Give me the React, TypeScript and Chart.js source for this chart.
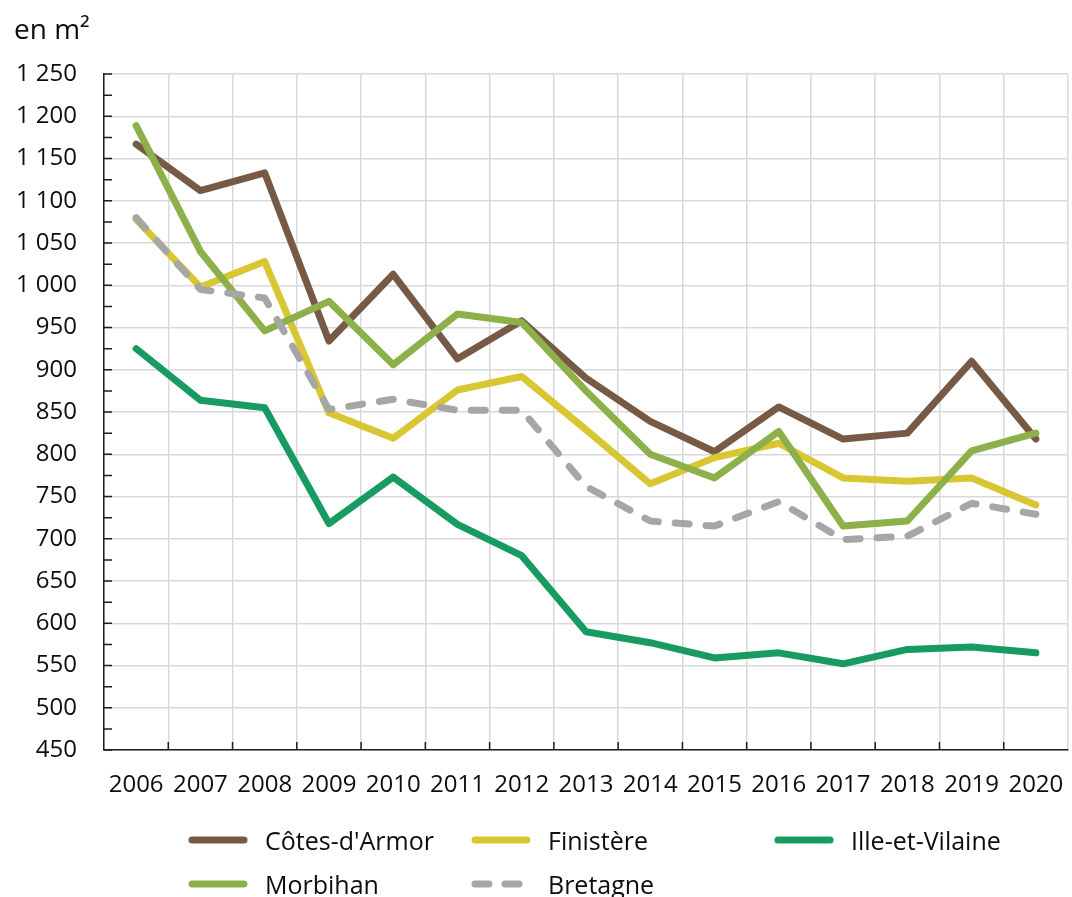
import React, { useEffect, useRef } from "react";
import { Chart, registerables } from "chart.js";

Chart.register(...registerables);

const years = ["2006","2007","2008","2009","2010","2011","2012","2013","2014","2015","2016","2017","2018","2019","2020"];
const cotesArmor = [1167, 1112, 1133, 934, 1013, 913, 958, 890, 839, 803, 856, 818, 825, 910, 818];
const finistere = [1078, 998, 1028, 849, 819, 876, 892, 829, 765, 796, 813, 772, 768, 772, 740];
const illeEtVilaine = [925, 864, 855, 718, 773, 717, 680, 590, 577, 559, 565, 552, 569, 572, 565];
const morbihan = [1189, 1040, 946, 981, 906, 966, 956, 875, 800, 772, 827, 715, 721, 804, 825];
const bretagne = [1080, 995, 985, 853, 865, 852, 852, 762, 721, 715, 744, 699, 703, 742, 729];

const yMin = 450;
const yMax = 1250;
const yMajor = 50;
const yMinor = 25;

const COLORS = {
  cotes: "#765a45",
  fin: "#d8c733",
  ille: "#179b61",
  morb: "#8db04b",
  bret: "#a6a6a6",
};

const FONT = "'Open Sans', 'Noto Sans', sans-serif";

function fmt(v: number): string {
  if (v >= 1000) return `${Math.floor(v / 1000)} ${String(v % 1000).padStart(3, "0")}`;
  return String(v);
}

const innerTicks = {
  id: "innerTicks",
  beforeDatasetsDraw(chart: any) {
    const { ctx, chartArea, scales } = chart;
    const y = scales.y;
    const x = scales.x;
    ctx.save();
    ctx.strokeStyle = "#1f1f1f";
    ctx.lineWidth = 1.5;
    ctx.beginPath();
    for (let v = yMin; v <= yMax; v += yMinor) {
      const py = y.getPixelForValue(v);
      ctx.moveTo(chartArea.left, py);
      ctx.lineTo(chartArea.left + 8, py);
    }
    const n = years.length;
    const w = (chartArea.right - chartArea.left) / n;
    for (let i = 1; i < n; i++) {
      const px = x.getPixelForValue(i - 1) + w / 2;
      ctx.moveTo(px, chartArea.bottom);
      ctx.lineTo(px, chartArea.bottom - 8);
    }
    ctx.stroke();
    ctx.restore();
  },
};

function Swatch({ color, dashed }: { color: string; dashed?: boolean }) {
  return (
    <svg width={60} height={12} style={{ display: "block" }}>
      <line
        x1={4}
        y1={6}
        x2={56}
        y2={6}
        stroke={color}
        strokeWidth={7}
        strokeLinecap="round"
        strokeDasharray={dashed ? "14 16" : undefined}
      />
    </svg>
  );
}

function LegendItem({ left, top, color, label, dashed }: any) {
  return (
    <div style={{ position: "absolute", left, top, display: "flex", alignItems: "center", height: 30 }}>
      <Swatch color={color} dashed={dashed} />
      <span style={{ marginLeft: 17, fontFamily: FONT, fontSize: 25, color: "#0d0d0d", whiteSpace: "nowrap" }}>{label}</span>
    </div>
  );
}

export default function App() {
  const ref = useRef<HTMLCanvasElement | null>(null);

  useEffect(() => {
    if (!ref.current) return;
    const common = { pointRadius: 0, borderWidth: 7, tension: 0, fill: false, borderJoinStyle: "round" as const, borderCapStyle: "round" as const };
    const chart = new Chart(ref.current, {
      type: "line",
      data: {
        labels: years,
        datasets: [
          { label: "Côtes-d'Armor", data: cotesArmor, borderColor: COLORS.cotes, backgroundColor: COLORS.cotes, order: 4, ...common },
          { label: "Finistère", data: finistere, borderColor: COLORS.fin, backgroundColor: COLORS.fin, order: 3, ...common },
          { label: "Ille-et-Vilaine", data: illeEtVilaine, borderColor: COLORS.ille, backgroundColor: COLORS.ille, order: 2, ...common },
          { label: "Morbihan", data: morbihan, borderColor: COLORS.morb, backgroundColor: COLORS.morb, order: 1, ...common },
          { label: "Bretagne", data: bretagne, borderColor: COLORS.bret, backgroundColor: COLORS.bret, order: 0, borderDash: [14, 17], ...common },
        ],
      },
      options: {
        animation: false,
        responsive: false,
        maintainAspectRatio: false,
        devicePixelRatio: 1,
        layout: { padding: { top: 74, right: 4, left: 0, bottom: 0 } },
        plugins: { legend: { display: false }, tooltip: { enabled: false }, title: { display: false } },
        scales: {
          x: {
            type: "category",
            offset: true,
            grid: { offset: true, color: "#d9d9d9", lineWidth: 1.5, drawTicks: false },
            border: { display: true, color: "#1f1f1f", width: 1.5 },
            ticks: { autoSkip: false, maxRotation: 0, minRotation: 0, padding: 21, color: "#0d0d0d", font: { family: FONT, size: 24 } },
            afterFit: (s: any) => { s.height = 147; s.paddingLeft = 0; s.paddingRight = 0; },
          },
          y: {
            type: "linear",
            min: yMin,
            max: yMax,
            grid: {
              color: (c: any) => (c.tick && c.tick.value % yMajor === 0 ? "#d9d9d9" : "rgba(0,0,0,0)"),
              lineWidth: 1.5,
              drawTicks: false,
            },
            border: { display: true, color: "#1f1f1f", width: 1.5 },
            ticks: {
              stepSize: yMinor,
              autoSkip: false,
              padding: 27,
              color: "#0d0d0d",
              font: { family: FONT, size: 24 },
              callback: (v: any) => (Number(v) % yMajor === 0 ? fmt(Number(v)) : ""),
            },
            afterFit: (s: any) => { s.width = 104; s.paddingTop = 0; s.paddingBottom = 0; },
          },
        },
      },
      plugins: [innerTicks],
    });
    return () => chart.destroy();
  }, []);

  return (
    <div style={{ position: "absolute", left: 0, top: 0, width: 1072, height: 897, background: "#fff", overflow: "hidden" }}>
      <canvas ref={ref} width={1072} height={897} style={{ position: "absolute", left: 0, top: 0 }} />
      <div style={{ position: "absolute", left: 14, top: 12, fontFamily: FONT, fontSize: 28, lineHeight: "32px", color: "#0d0d0d" }}>
        en m²
      </div>
      <LegendItem left={188} top={825} color={COLORS.cotes} label="Côtes-d'Armor" />
      <LegendItem left={471} top={825} color={COLORS.fin} label="Finistère" />
      <LegendItem left={774} top={825} color={COLORS.ille} label="Ille-et-Vilaine" />
      <LegendItem left={188} top={869} color={COLORS.morb} label="Morbihan" />
      <LegendItem left={471} top={869} color={COLORS.bret} label="Bretagne" dashed />
    </div>
  );
}
